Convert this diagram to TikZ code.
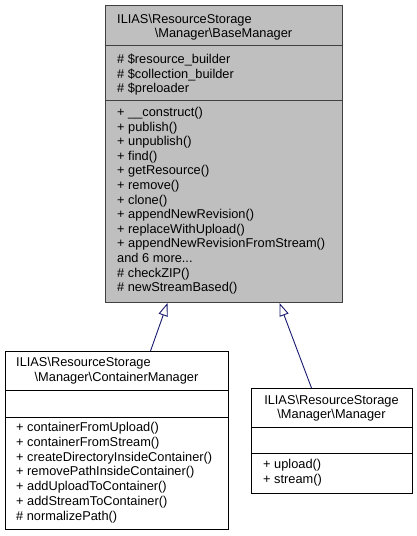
\documentclass[tikz,border=0pt]{standalone}
\usepackage{fontspec}
\setmainfont{Liberation Sans}
\usetikzlibrary{calc,arrows.meta}
\definecolor{edgeblue}{HTML}{191970}
\definecolor{basegray}{HTML}{BFBFBF}
\tikzset{
	classbox/.style={draw, rectangle, inner sep=0pt, line width=1pt, anchor=north west},
	member/.style={inner sep=0pt, anchor=base west, font=\fontsize{12.8}{14.6}\selectfont},
	title/.style={inner sep=0pt, anchor=base, font=\fontsize{12.8}{14.6}\selectfont},
	inherit/.style={draw=edgeblue, line width=0.9pt, -{Triangle[open, length=13pt, width=9.5pt, fill=white]}}
}

\begin{document}
\begin{tikzpicture}[x=1pt, y=-1pt]
		%%%%% START %%%%%
		\useasboundingbox (0, 0) rectangle (417, 536);
		
		% BaseManager
		\node[classbox, draw=black!75, fill=basegray, minimum width=237pt, minimum height=297pt] (base) at (105, 5) {};
		\draw[line width=1pt, color=black!75] ($(base.north west)+(0, 40)$) -- ($(base.north east)+(0, 40)$);
		\draw[line width=1pt, color=black!75] ($(base.north west)+(0, 95)$) -- ($(base.north east)+(0, 95)$);
		
		\node[member] (bt1) at (117, 23.5) {ILIAS\textbackslash ResourceStorage};
		\node[title] (bt2) at (223.5, 37.7) {\textbackslash Manager\textbackslash BaseManager};
		
		\node[member] (ba1) at (117, 63.5) {\# \$resource\_builder};
		\node[member] (ba2) at (117, 78) {\# \$collection\_builder};
		\node[member] (ba3) at (117, 92.5) {\# \$preloader};
		
		\node[member] (bm1) at (117, 116.5) {+ \_\_construct()};
		\node[member] (bm2) at (117, 131.1) {+ publish()};
		\node[member] (bm3) at (117, 145.7) {+ unpublish()};
		\node[member] (bm4) at (117, 160.3) {+ find()};
		\node[member] (bm5) at (117, 174.9) {+ getResource()};
		\node[member] (bm6) at (117, 189.5) {+ remove()};
		\node[member] (bm7) at (117, 204.1) {+ clone()};
		\node[member] (bm8) at (117, 218.7) {+ appendNewRevision()};
		\node[member] (bm9) at (117, 233.3) {+ replaceWithUpload()};
		\node[member] (bm10) at (117, 247.9) {+ appendNewRevisionFromStream()};
		\node[member] (bm11) at (117, 262.5) {and 6 more...};
		\node[member] (bm12) at (117, 277.1) {\# checkZIP()};
		\node[member] (bm13) at (117, 291.7) {\# newStreamBased()};
		
		% ContainerManager
		\node[classbox, minimum width=223pt, minimum height=178pt] (cont) at (5, 351) {};
		\draw[line width=1pt] ($(cont.north west)+(0, 39)$) -- ($(cont.north east)+(0, 39)$);
		\draw[line width=1pt] ($(cont.north west)+(0, 66)$) -- ($(cont.north east)+(0, 66)$);
		
		\node[member] (ct1) at (16, 366.7) {ILIAS\textbackslash ResourceStorage};
		\node[title] (ct2) at (116.5, 381.3) {\textbackslash Manager\textbackslash ContainerManager};
		
		\node[member] (cm1) at (16, 431.5) {+ containerFromUpload()};
		\node[member] (cm2) at (16, 446.25) {+ containerFromStream()};
		\node[member] (cm3) at (16, 461) {+ createDirectoryInsideContainer()};
		\node[member] (cm4) at (16, 475.75) {+ removePathInsideContainer()};
		\node[member] (cm5) at (16, 490.5) {+ addUploadToContainer()};
		\node[member] (cm6) at (16, 505.25) {+ addStreamToContainer()};
		\node[member] (cm7) at (16, 520) {\# normalizePath()};
		
		% Manager
		\node[classbox, minimum width=161pt, minimum height=105pt] (mgr) at (251, 388) {};
		\draw[line width=1pt] ($(mgr.north west)+(0, 39)$) -- ($(mgr.north east)+(0, 39)$);
		\draw[line width=1pt] ($(mgr.north west)+(0, 65)$) -- ($(mgr.north east)+(0, 65)$);
		
		\node[title] (mt1) at (331.5, 404) {ILIAS\textbackslash ResourceStorage};
		\node[title] (mt2) at (331.5, 418.3) {\textbackslash Manager\textbackslash Manager};
		
		\node[member] (mm1) at (263, 468.5) {+ upload()};
		\node[member] (mm2) at (263, 483.5) {+ stream()};
		
		% inheritance
		\draw[inherit] ([xshift=33.5pt]cont.north) -- ([xshift=-56.5pt]base.south);
		\draw[inherit] ([xshift=-20.5pt]mgr.north) -- ([xshift=55.5pt]base.south);
		
		%%%%% END %%%%%
	\end{tikzpicture}
\end{document}
